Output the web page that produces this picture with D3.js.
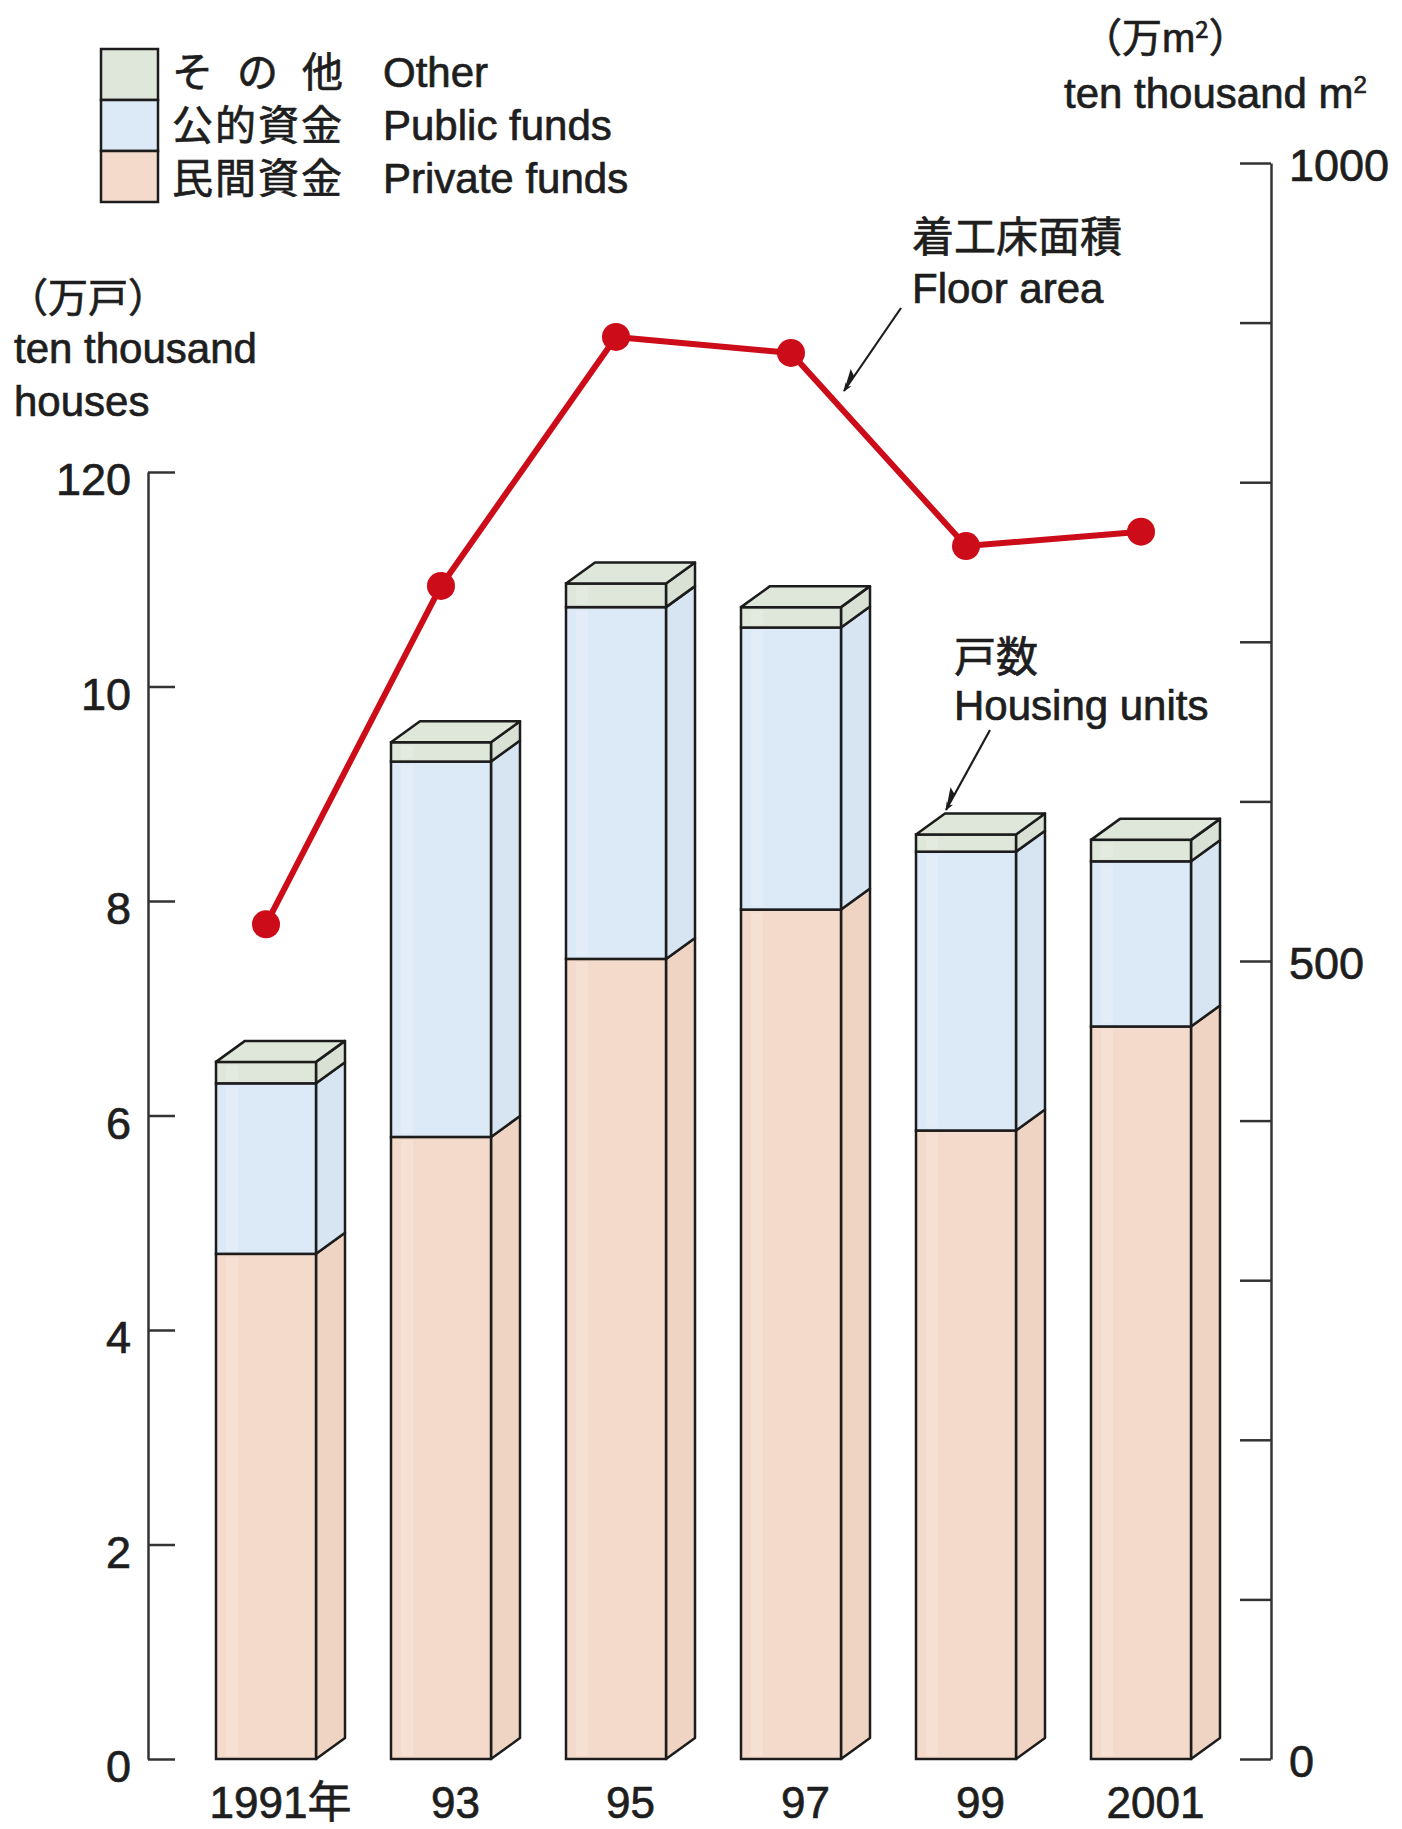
<!DOCTYPE html>
<html>
<head>
<meta charset="utf-8">
<script src="https://cdn.jsdelivr.net/npm/d3@7"></script>
<style>
  body { margin: 0; background: #fff; }
  text { font-family: "Liberation Sans", Arial, sans-serif; fill: #1e1e1e; stroke: #1e1e1e; stroke-width: 0.7px; }
  .jp { font-family: "Noto Sans CJK JP", sans-serif; }
</style>
</head>
<body>
<div id="chart-container"></div>
<script>
// values
const years = ["1991年", "93", "95", "97", "99", "2001"];
const privateFunds = [4.71, 5.80, 7.46, 7.92, 5.86, 6.83];
const publicFunds  = [1.59, 3.50, 3.28, 2.63, 2.60, 1.54];
const otherFunds   = [0.20, 0.18, 0.22, 0.19, 0.16, 0.20];
const floorArea    = [523, 735, 891, 881, 760, 769];

const leftTicks = [0, 2, 4, 6, 8, 10, 12];
const leftTickLabels = ["0", "2", "4", "6", "8", "10", "120"];
const rightTicks = [0, 100, 200, 300, 400, 500, 600, 700, 800, 900, 1000];
const rightTickLabels = {0: "0", 500: "500", 1000: "1000"};

const keys = ["private", "public", "other"];
const front = {private: "#f4dacb", public: "#dce9f6", other: "#dfe6da"};
const side  = {private: "#f0d4c3", public: "#d7e5f3", other: "#d9e1d4"};
const topColor = "#dfe6da";
const red = "#cc0c18";
const ink = "#1c1c1c";

const width = 1402, height = 1829;
const depthX = 29, depthY = 21;

const svg = d3.select("#chart-container")
    .append("svg")
    .attr("width", width)
    .attr("height", height);

const x = d3.scaleBand()
    .domain(years)
    .range([178.5, 1228.5])
    .paddingInner(3 / 7)
    .paddingOuter(1.5 / 7);

const yL = d3.scaleLinear().domain([0, 12]).range([1759, 472]);
const yR = d3.scaleLinear().domain([0, 1000]).range([1759, 163]);

const table = years.map((yr, i) => ({
    year: yr, private: privateFunds[i], public: publicFunds[i], other: otherFunds[i]
}));
const series = d3.stack().keys(keys)(table);

// axes
const leftAxis = svg.append("g")
    .attr("transform", "translate(148,0)")
    .call(d3.axisLeft(yL)
        .tickValues(leftTicks)
        .tickSize(-27)
        .tickSizeOuter(0)
        .tickPadding(17)
        .tickFormat((d, i) => leftTickLabels[i]));

const rightAxis = svg.append("g")
    .attr("transform", "translate(1271,0)")
    .call(d3.axisRight(yR)
        .tickValues(rightTicks)
        .tickSize(-31)
        .tickSizeOuter(0)
        .tickPadding(18)
        .tickFormat(d => rightTickLabels[d] || ""));

[leftAxis, rightAxis].forEach(ax => {
    ax.select(".domain").attr("stroke", "#333").attr("stroke-width", 2.5);
    ax.selectAll(".tick line").attr("stroke", "#333").attr("stroke-width", 2.5);
    ax.selectAll(".tick text")
        .style("font-size", "45px")
        .attr("fill", "#1e1e1e")
        .attr("dy", "0.5em");
});
rightAxis.selectAll(".tick text").attr("dy", "0.38em");

// 3d stacked bars
const bars = svg.append("g");
const bw = x.bandwidth();

years.forEach((yr, i) => {
    const g = bars.append("g");
    const x0 = x(yr);
    series.forEach(s => {
        const lo = yL(s[i][0]), hi = yL(s[i][1]);
        g.append("path")
            .attr("d", `M${x0 + bw},${lo} L${x0 + bw + depthX},${lo - depthY} L${x0 + bw + depthX},${hi - depthY} L${x0 + bw},${hi} Z`)
            .attr("fill", side[s.key])
            .attr("stroke", ink)
            .attr("stroke-width", 2.5)
            .attr("stroke-linejoin", "round");
        g.append("rect")
            .attr("x", x0)
            .attr("y", hi)
            .attr("width", bw)
            .attr("height", lo - hi)
            .attr("fill", front[s.key])
            .attr("stroke", ink)
            .attr("stroke-width", 2.5);
        // faint highlight stripe
        g.append("rect")
            .attr("x", x0 + bw * 0.1)
            .attr("y", hi + 3)
            .attr("width", bw * 0.12)
            .attr("height", Math.max(0, lo - hi - 6))
            .attr("fill", "#fff")
            .attr("opacity", 0.18);
    });
    const t = yL(series[series.length - 1][i][1]);
    g.append("path")
        .attr("d", `M${x0},${t} L${x0 + depthX},${t - depthY} L${x0 + bw + depthX},${t - depthY} L${x0 + bw},${t} Z`)
        .attr("fill", topColor)
        .attr("stroke", ink)
        .attr("stroke-width", 2.5)
        .attr("stroke-linejoin", "round");
});

// floor area line
const cx = d => x(d) + bw / 2;
const line = d3.line()
    .x((d, i) => cx(years[i]))
    .y(d => yR(d));

svg.append("path")
    .datum(floorArea)
    .attr("d", line)
    .attr("fill", "none")
    .attr("stroke", red)
    .attr("stroke-width", 6)
    .attr("stroke-linejoin", "round");

svg.append("g")
    .selectAll("circle")
    .data(floorArea)
    .enter()
    .append("circle")
    .attr("cx", (d, i) => cx(years[i]))
    .attr("cy", d => yR(d))
    .attr("r", 14)
    .attr("fill", red);

// legend
const legend = svg.append("g");
const legendRows = [
    {key: "other", jp: "その他", en: "Other"},
    {key: "public", jp: "公的資金", en: "Public funds"},
    {key: "private", jp: "民間資金", en: "Private funds"}
];
legendRows.forEach((r, i) => {
    legend.append("rect")
        .attr("x", 101).attr("y", 49 + i * 51)
        .attr("width", 57).attr("height", 51)
        .attr("fill", front[r.key])
        .attr("stroke", ink)
        .attr("stroke-width", 2.5);
    const jt = legend.append("text")
        .attr("class", "jp")
        .attr("x", 172).attr("y", 87 + i * 53)
        .style("font-size", "41px")
        .text(r.jp);
    if (r.key === "other") jt.style("letter-spacing", "24px");
    else jt.style("letter-spacing", "2px");
    legend.append("text")
        .attr("x", 383).attr("y", 87 + i * 53)
        .style("font-size", "42px")
        .text(r.en);
});

// axis titles
svg.append("text").attr("class", "jp").attr("x", 8).attr("y", 312)
    .style("font-size", "40px").text("（万戸）");
svg.append("text").attr("x", 14).attr("y", 363)
    .style("font-size", "42px").text("ten thousand");
svg.append("text").attr("x", 14).attr("y", 416)
    .style("font-size", "42px").text("houses");

const rt = svg.append("text").attr("class", "jp").attr("x", 1082).attr("y", 52)
    .style("font-size", "40px");
rt.append("tspan").text("（万");
rt.append("tspan").style("font-family", "Liberation Sans, Arial, sans-serif").text("m");
rt.append("tspan").style("font-size", "24px").attr("dy", -14).text("2");
rt.append("tspan").attr("dy", 14).text("）");

const rt2 = svg.append("text").attr("x", 1064).attr("y", 108).style("font-size", "42px");
rt2.append("tspan").text("ten thousand  m");
rt2.append("tspan").style("font-size", "24px").attr("dy", -15).text("2");

// annotations
svg.append("text").attr("class", "jp").attr("x", 912).attr("y", 252)
    .style("font-size", "42px").text("着工床面積");
svg.append("text").attr("x", 912).attr("y", 303)
    .style("font-size", "42px").text("Floor area");
svg.append("text").attr("class", "jp").attr("x", 954).attr("y", 672)
    .style("font-size", "42px").text("戸数");
svg.append("text").attr("x", 954).attr("y", 720)
    .style("font-size", "42px").text("Housing units");

svg.append("defs").append("marker")
    .attr("id", "head")
    .attr("viewBox", "0 0 10 10")
    .attr("refX", 9).attr("refY", 5)
    .attr("markerWidth", 9).attr("markerHeight", 9)
    .attr("markerUnits", "userSpaceOnUse")
    .attr("orient", "auto")
    .append("path")
    .attr("d", "M0,1 L10,5 L0,9 L3,5 Z")
    .attr("fill", ink);

const arrows = [
    [[901, 308], [844, 391]],
    [[990, 730], [946, 810]]
];
arrows.forEach(a => {
    svg.append("path")
        .attr("d", d3.line()(a))
        .attr("stroke", ink)
        .attr("stroke-width", 2.2)
        .attr("fill", "none")
        .attr("marker-end", "url(#head)");
    // little half barb
    const [p0, p1] = a;
    const dx = p1[0] - p0[0], dy = p1[1] - p0[1];
    const len = Math.hypot(dx, dy);
    const ux = dx / len, uy = dy / len;
    const bx = p1[0] - ux * 22, by = p1[1] - uy * 22;
    svg.append("path")
        .attr("d", `M${p1[0]},${p1[1]} L${bx - uy * 7},${by + ux * 7} L${bx + ux * 4},${by + uy * 4} Z`)
        .attr("fill", ink);
});

// year labels
svg.append("g")
    .selectAll("text")
    .data(years)
    .enter()
    .append("text")
    .attr("x", d => x(d) + (bw + depthX) / 2)
    .attr("y", 1818)
    .attr("text-anchor", "middle")
    .style("font-size", "44px")
    .style("font-family", "'Liberation Sans', 'Noto Sans CJK JP', sans-serif")
    .text(d => d);
</script>
</body>
</html>
